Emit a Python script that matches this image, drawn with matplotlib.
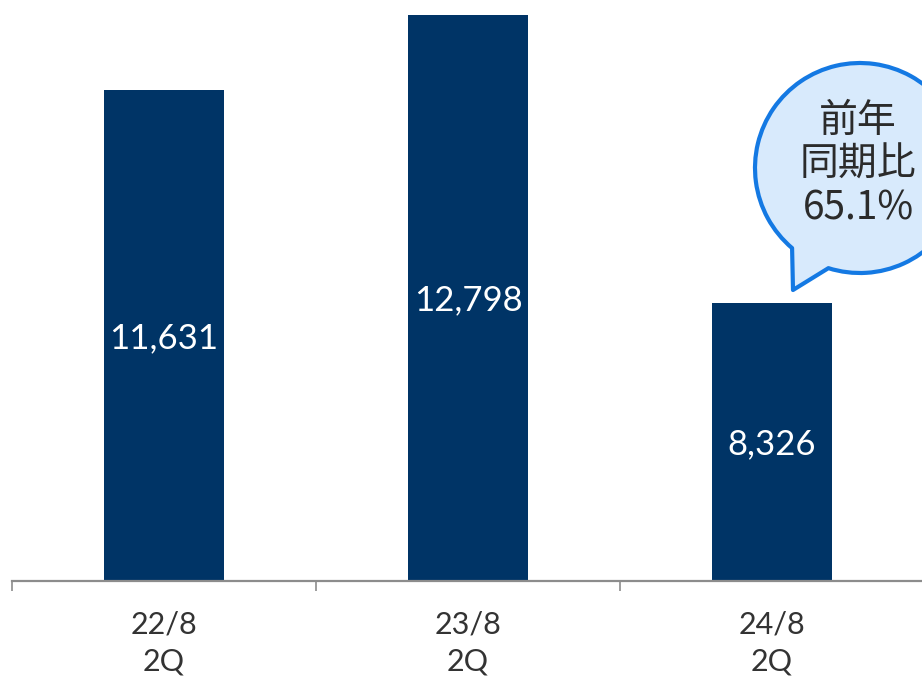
import matplotlib
matplotlib.use("Agg")
import matplotlib.pyplot as plt
from matplotlib.path import Path
from matplotlib.patches import PathPatch
from matplotlib.transforms import Affine2D, offset_copy
import numpy as np

categories = ["22/8\n2Q", "23/8\n2Q", "24/8\n2Q"]
values = [11631, 12798, 8326]
value_labels = ["11,631", "12,798", "8,326"]
callout_lines = ["前年", "同期比", "65.1%"]

W, H = 922, 676
fig = plt.figure(figsize=(W / 100, H / 100), dpi=100)
ax = fig.add_axes([12 / W, 95 / H, 912 / W, 581 / H])

x = np.arange(len(values))
ax.bar(x, values, width=0.395, color="#003466", zorder=2)
ax.set_xlim(-0.5, 2.5)
ax.set_ylim(4005, 13030)

lab_tr = offset_copy(ax.transData, fig=fig, x=0, y=-12.5, units="dots")
for xi, v, lab in zip(x, values, value_labels):
    ax.text(xi, (v + 4005) / 2, lab, ha="center", va="baseline", color="white",
            fontsize=25, family=["Lato", "DejaVu Sans"], transform=lab_tr)

for s in ["top", "left", "right"]:
    ax.spines[s].set_visible(False)
ax.spines["bottom"].set_color("#8c8c8c")
ax.spines["bottom"].set_linewidth(1.6)
ax.set_yticks([])
ax.set_xticks(x)
ax.set_xticklabels([])
ax.tick_params(axis="x", which="major", length=0)
ax.set_xticks([-0.5, 0.5, 1.5, 2.5], minor=True)
ax.tick_params(axis="x", which="minor", length=7.5, width=1.2, color="#8c8c8c")

# category labels (two lines)
for xi, cat in zip(x, categories):
    l1, l2 = cat.split("\n")
    fx = (12 + 152 + 304 * xi) / W
    fig.text(fx, 1 - 624.5 / H, l1, ha="center", va="center", fontsize=22,
             color="#333333", family=["Lato", "DejaVu Sans"])
    fig.text(fx, 1 - 661.5 / H, l2, ha="center", va="center", fontsize=22,
             color="#333333", family=["Lato", "DejaVu Sans"])

# callout bubble (pixel coords, y up)
cx, cy, r = 860, H - 168, 105
a1, a2 = 252.5, 229.7 + 360
arc = Path.arc(a1, a2)
verts = [tuple(v) for v in arc.vertices * r + np.array([cx, cy])]
codes = list(arc.codes)
tip = (793, H - 290)
verts += [tip, verts[0]]
codes += [Path.LINETO, Path.CLOSEPOLY]
path = Path(verts, codes)
tr = Affine2D().scale(1 / W, 1 / H) + fig.transFigure
bubble = PathPatch(path, facecolor="#d8eafc", edgecolor="#1479e3", linewidth=3,
                   transform=tr, zorder=5, joinstyle="round")
fig.patches.append(bubble)

for i, line in enumerate(callout_lines):
    fig.text(858 / W, 1 - (121 + 43.5 * i) / H, line, ha="center", va="center",
             fontsize=28, color="#2b2b2b",
             family=["Noto Sans CJK JP", "DejaVu Sans"], zorder=6)

fig.savefig("out.png", dpi=100)
